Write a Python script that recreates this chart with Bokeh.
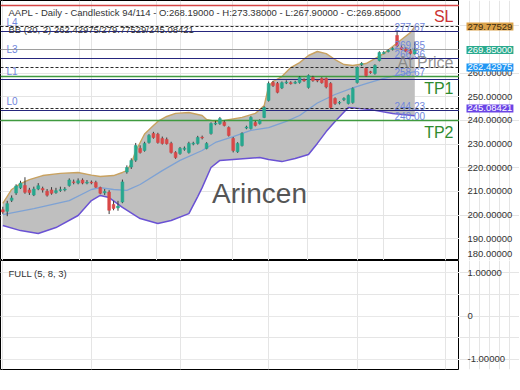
from bokeh.plotting import figure
from bokeh.layouts import column, row
from bokeh.models import Range1d, FixedTicker, Label, Grid, ColumnDataSource
from bokeh.core.properties import value
from bokeh.embed import file_html
from bokeh.resources import INLINE

# ---------------- data ----------------
symbol = "AAPL"
timeframe = "Daily"
chart_type = "Candlestick"
bar_pos = "94/114"

opens = [202.2, 201.6, 206.2, 209.3, 211.5, 212.5, 210.6, 208.5, 211.0, 211.2,
         210.1, 210.6, 209.5, 210.4, 210.6, 212.5, 214.0, 213.5, 214.8, 213.5,
         213.9, 213.8, 211.6, 209.4, 209.7, 204.5, 203.0, 205.5, 218.2, 220.3,
         223.2, 228.2, 227.3, 230.7, 234.5, 234.2, 232.4, 232.0, 230.3, 226.5,
         226.0, 227.8, 226.5, 230.0, 230.3, 232.9, 228.2, 234.5, 238.5, 238.7,
         239.3, 237.0, 232.4, 226.8, 229.4, 236.8, 236.6, 239.1, 238.7, 241.3,
         248.5, 256.1, 255.7, 253.8, 255.9, 256.0, 255.8, 256.1, 257.2, 254.0,
         258.2, 257.0, 257.8, 257.8, 255.7, 249.3, 247.4, 248.8, 247.2, 247.6,
         256.1, 263.6, 262.0, 260.6, 259.9, 265.4, 268.4, 269.2, 270.1, 276.0,
         270.9, 270.2, 269.5, 268.19]
highs = [203.5, 206.0, 208.3, 213.0, 214.5, 216.0, 211.5, 212.0, 213.5, 212.0,
         211.0, 211.8, 211.5, 212.0, 211.8, 215.5, 215.0, 215.5, 215.5, 214.8,
         214.6, 214.5, 212.0, 211.0, 210.5, 206.0, 206.0, 215.0, 221.0, 224.0,
         230.5, 229.5, 231.0, 234.2, 235.2, 234.8, 233.2, 232.8, 231.0, 227.0,
         228.8, 229.0, 231.0, 231.0, 233.5, 233.6, 230.8, 239.2, 239.8, 241.5,
         240.0, 237.5, 233.0, 230.8, 235.0, 237.8, 241.8, 239.8, 240.5, 246.0,
         256.5, 256.8, 256.3, 256.5, 257.0, 256.6, 256.8, 258.8, 257.8, 259.5,
         258.9, 257.5, 258.3, 258.2, 256.2, 249.8, 248.2, 249.8, 251.0, 254.0,
         262.9, 264.7, 262.6, 261.0, 263.8, 269.3, 269.4, 270.2, 271.0, 277.6,
         271.8, 271.0, 270.3, 273.38]
lows = [200.5, 199.5, 205.5, 208.5, 211.0, 209.0, 208.5, 208.0, 210.5, 209.5,
        207.8, 208.6, 209.0, 209.8, 210.0, 212.0, 213.0, 213.0, 213.0, 213.0,
        213.0, 211.5, 208.8, 208.5, 200.4, 202.0, 201.8, 205.0, 217.5, 219.5,
        222.5, 226.0, 226.8, 230.2, 232.3, 230.2, 229.8, 229.8, 226.0, 223.8,
        225.5, 227.2, 226.0, 229.5, 229.8, 232.0, 227.8, 234.0, 238.0, 238.2,
        237.5, 233.2, 226.5, 226.3, 229.0, 236.3, 236.2, 237.5, 238.3, 241.0,
        248.0, 254.2, 251.5, 253.3, 255.4, 255.2, 255.4, 255.6, 256.4, 253.5,
        256.4, 256.2, 255.6, 253.6, 244.8, 246.6, 246.8, 248.2, 246.8, 247.1,
        255.6, 263.0, 258.5, 259.8, 259.4, 265.0, 268.0, 268.8, 269.6, 271.0,
        269.8, 268.9, 267.8, 267.90]
closes = [201.3, 204.8, 207.2, 212.3, 213.5, 209.6, 209.5, 211.0, 212.4, 210.6,
          208.4, 209.2, 210.3, 210.7, 211.0, 214.8, 213.8, 214.5, 213.5, 213.9,
          213.6, 211.8, 209.2, 209.9, 202.0, 202.8, 203.8, 214.0, 220.1, 223.1,
          229.4, 226.5, 230.3, 233.7, 232.8, 230.7, 230.3, 230.2, 226.5, 224.3,
          228.2, 228.3, 230.3, 230.4, 232.8, 232.6, 230.3, 238.7, 238.8, 240.8,
          237.9, 233.7, 227.3, 230.3, 234.5, 237.2, 241.3, 237.9, 240.0, 245.5,
          255.7, 254.8, 251.9, 256.0, 256.2, 255.6, 256.2, 258.2, 256.8, 259.0,
          256.9, 256.8, 256.0, 254.2, 245.5, 247.2, 247.6, 249.3, 250.6, 253.5,
          262.4, 264.1, 259.0, 260.3, 263.3, 268.8, 268.8, 269.6, 270.5, 271.5,
          270.2, 269.3, 268.4, 269.85]

bb_params = "BB (20, 2)"
bb_last = [262.42975, 279.77529, 245.08421]   # middle / upper / lower

upper_idx = [0, 2, 4, 6, 9, 13, 17, 20, 22, 25, 27, 28, 29, 30, 32, 34, 35, 37, 39, 42,
             45, 46, 48, 50, 54, 57, 59, 60, 61, 63, 65, 67, 69, 71, 73, 75, 77, 79,
             82, 84, 86, 88, 90, 92, 93]
upper_vals = [204.9, 210.8, 213.3, 215.0, 216.7, 217.6, 218.0, 216.9, 216.3, 216.7,
              218.0, 218.8, 221.8, 227.0, 234.3, 237.9, 239.6, 241.7, 243.0, 243.4,
              242.1, 240.4, 239.6, 240.0, 241.3, 243.0, 246.3, 254.4, 256.5, 258.6,
              262.4, 264.5, 267.5, 269.2, 268.3, 265.8, 263.7, 263.3, 264.1, 266.2,
              268.3, 271.3, 274.3, 277.2, 279.7]
mid_idx = [0, 7, 15, 20, 22, 25, 28, 31, 36, 40, 45, 48, 52, 56, 60, 64, 67, 71, 75,
           79, 82, 86, 90, 93]
mid_vals = [200.2, 202.7, 206.1, 210.8, 211.6, 210.8, 210.4, 212.9, 218.8, 223.1,
            227.3, 230.7, 233.2, 235.8, 237.0, 239.6, 242.1, 247.4, 251.0, 253.8,
            255.6, 257.8, 259.5, 260.7]
lower_idx = [0, 4, 8, 12, 17, 20, 22, 24, 27, 31, 35, 38, 42, 44, 45, 47, 49, 52, 58,
             60, 63, 66, 69, 71, 73, 75, 78, 83, 88, 93]
lower_vals = [195.6, 193.4, 192.2, 194.7, 199.8, 206.1, 208.3, 207.4, 203.2, 198.5,
              196.4, 197.7, 200.6, 207.8, 211.6, 220.1, 223.1, 223.5, 224.3, 223.5,
              222.6, 223.9, 225.6, 230.3, 235.3, 239.6, 245.5, 244.6, 243.0, 242.0]

level_names = ["L4", "L3", "L1", "L0"]
level_vals = [277.67, 266.36, 257.30, 244.23]
tp_names = ["TP1", "TP2"]
tp_vals = [258.67, 240.00]
sl_name = "SL"
sl_val = 288.7
price_tag_vals = [277.67, 269.85, 266.36, 258.67, 244.23, 240.00]

y_ticks = [180, 190, 200, 210, 220, 230, 240, 250, 260, 270, 280]
vgrid_idx = [17.3, 34.7, 51.9, 68.8, 85.9]

osc_name = "FULL (5, 8, 3)"
low_ticks = [1, 0, -1]
low_tick_labels = ["1.00000", "0", "-1.00000"]
watermark = "Arincen"
price_note = "At Price"

# ---------------- geometry ----------------
FW, FH, FH2, SW = 459, 260, 109, 60
X0, X1 = -0.52, 103.09
Y0, Y1 = 180.75, 290.78
LY0, LY1 = -1.23, 1.276
PPU = FH / (Y1 - Y0)
FONT = "Liberation Sans"

last = len(closes) - 1
close_last = closes[last]


def base_fig(fw, fh, xr, yr, bottom=0):
    return figure(frame_width=fw, frame_height=fh, x_range=xr, y_range=yr,
                  output_backend="svg", toolbar_location=None,
                  x_axis_location=None, y_axis_location=None,
                  min_border_left=0, min_border_top=0, min_border_right=0,
                  min_border_bottom=bottom, background_fill_color="white",
                  border_fill_color="white")


def lab(fig, text, x, y, size="9.5px", color="#333333", align="left", base="middle",
        **kw):
    fig.add_layout(Label(x=x, y=y, x_units="screen", text=text, text_font=FONT,
                         text_font_size=size, text_color=color, text_align=align,
                         text_baseline=base, **kw))


# ---------------- main panel ----------------
p = base_fig(FW, FH, Range1d(X0, X1), Range1d(Y0, Y1))
p.outline_line_color = "black"
p.outline_line_width = 1
p.add_layout(Grid(dimension=0, ticker=FixedTicker(ticks=vgrid_idx),
                  grid_line_color="#e4e4e4"))
p.add_layout(Grid(dimension=1, ticker=FixedTicker(ticks=y_ticks),
                  grid_line_color="#e4e4e4"))

# Bollinger fill + lines
p.patch(x=upper_idx + lower_idx[::-1], y=upper_vals + lower_vals[::-1],
        fill_color="#bfbfbf", line_color=None)
p.line(upper_idx, upper_vals, line_color="#c9a260", line_width=1.4)
p.line(lower_idx, lower_vals, line_color="#6a52d4", line_width=1.5)
p.line(mid_idx, mid_vals, line_color="#7ea2d4", line_width=1.3)

# horizontal levels
p.hspan(y=bb_last, line_color="#2a2a2a", line_width=1.2, line_dash="3 2")
p.hspan(y=level_vals, line_color="#26267e", line_width=1.2)
p.hspan(y=[close_last], line_color="#9e9e9e", line_width=1.2)
p.hspan(y=tp_vals, line_color="#3f9a3f", line_width=1.5)
p.hspan(y=[sl_val], line_color="#d64545", line_width=1.6)

# candles
xs = list(range(len(closes)))
up_col, dn_col = "#27a88e", "#d94848"
src = ColumnDataSource(dict(
    x=xs, h=highs, l=lows,
    top=[max(o, c) for o, c in zip(opens, closes)],
    bot=[min(o, c) for o, c in zip(opens, closes)],
    col=[up_col if c >= o else dn_col for o, c in zip(opens, closes)]))
p.segment(x0="x", y0="h", x1="x", y1="l", source=src, line_color="#3a3a3a", line_width=1)
p.vbar(x="x", width=0.62, top="top", bottom="bot", source=src,
       fill_color="col", line_color="col", line_width=0.6)

header = (f"{symbol} - {timeframe} - {chart_type}   {bar_pos} - O:{opens[last]:.5f} - "
          f"H:{highs[last]:.5f} - L:{lows[last]:.5f} - C:{closes[last]:.5f}")
lab(p, header, 8, Y1 - 12 / PPU)
lab(p, f"{bb_params}   {bb_last[0]:.5f}/{bb_last[1]:.5f}/{bb_last[2]:.5f}", 8,
    Y1 - 29 / PPU)

for n, v in zip(level_names, level_vals):
    lab(p, n, 6, v + 3 / PPU, size="10px", color="#6f86dc", base="bottom")
for v in price_tag_vals:
    lab(p, f"{v:.2f}", 394, v + 0.5 / PPU, size="10px", color="#6f86dc", base="bottom")

lab(p, sl_name, 453, sl_val - 11 / PPU, size="16px", color="#cc3333", align="right")
for n, v in zip(tp_names, tp_vals):
    lab(p, n, 453, v - 12 / PPU, size="16px", color="#2e8b2e", align="right")
lab(p, price_note, 453, close_last - 13 / PPU, size="16px", color="#808080",
    align="right", text_alpha=0.85)
lab(p, watermark, 259, Y1 - 193 / PPU, size="28px", color="#555555", align="center")

# ---------------- main price scale ----------------
ps = base_fig(SW, FH, Range1d(0, SW), p.y_range)
ps.outline_line_color = None
vis_ticks = [t for t in y_ticks if t >= Y0]
ps.text(x=[8] * len(vis_ticks), y=vis_ticks, text=[f"{t:.5f}" for t in vis_ticks],
        text_font=value(FONT), text_font_size="9.5px", text_color="#333333",
        text_baseline="middle", text_align="left")
for t in y_ticks:
    if t < Y0:
        lab(ps, f"{t:.5f}", 8, Y0 + 7 / PPU)

box_vals = [bb_last[1], close_last, bb_last[0], bb_last[2]]
box_cols = ["#dba24a", "#2aaa8e", "#2196f3", "#6b45e6"]
box_txt = ["#3a2a10", "white", "white", "white"]
for v, bc, tc in zip(box_vals, box_cols, box_txt):
    lab(ps, f"{v:.5f}", 7, v, color=tc, background_fill_color=bc, padding=1)

# ---------------- lower panel ----------------
q = base_fig(FW, FH2, p.x_range, Range1d(LY0, LY1), bottom=3)
q.outline_line_color = "black"
q.outline_line_width = 1
q.add_layout(Grid(dimension=1, ticker=FixedTicker(ticks=low_ticks),
                  grid_line_color="#e8e8e8"))
lab(q, osc_name, 8, 0.98)

qs = base_fig(SW, FH2, Range1d(0, SW), q.y_range, bottom=3)
qs.outline_line_color = None
qs.text(x=[8] * len(low_ticks), y=low_ticks, text=low_tick_labels,
        text_font=value(FONT), text_font_size="9.5px", text_color="#333333",
        text_baseline="middle", text_align="left")

layout = column(row(p, ps, spacing=0), row(q, qs, spacing=0), spacing=0)
open("out.html", "w").write(file_html(layout, INLINE))
